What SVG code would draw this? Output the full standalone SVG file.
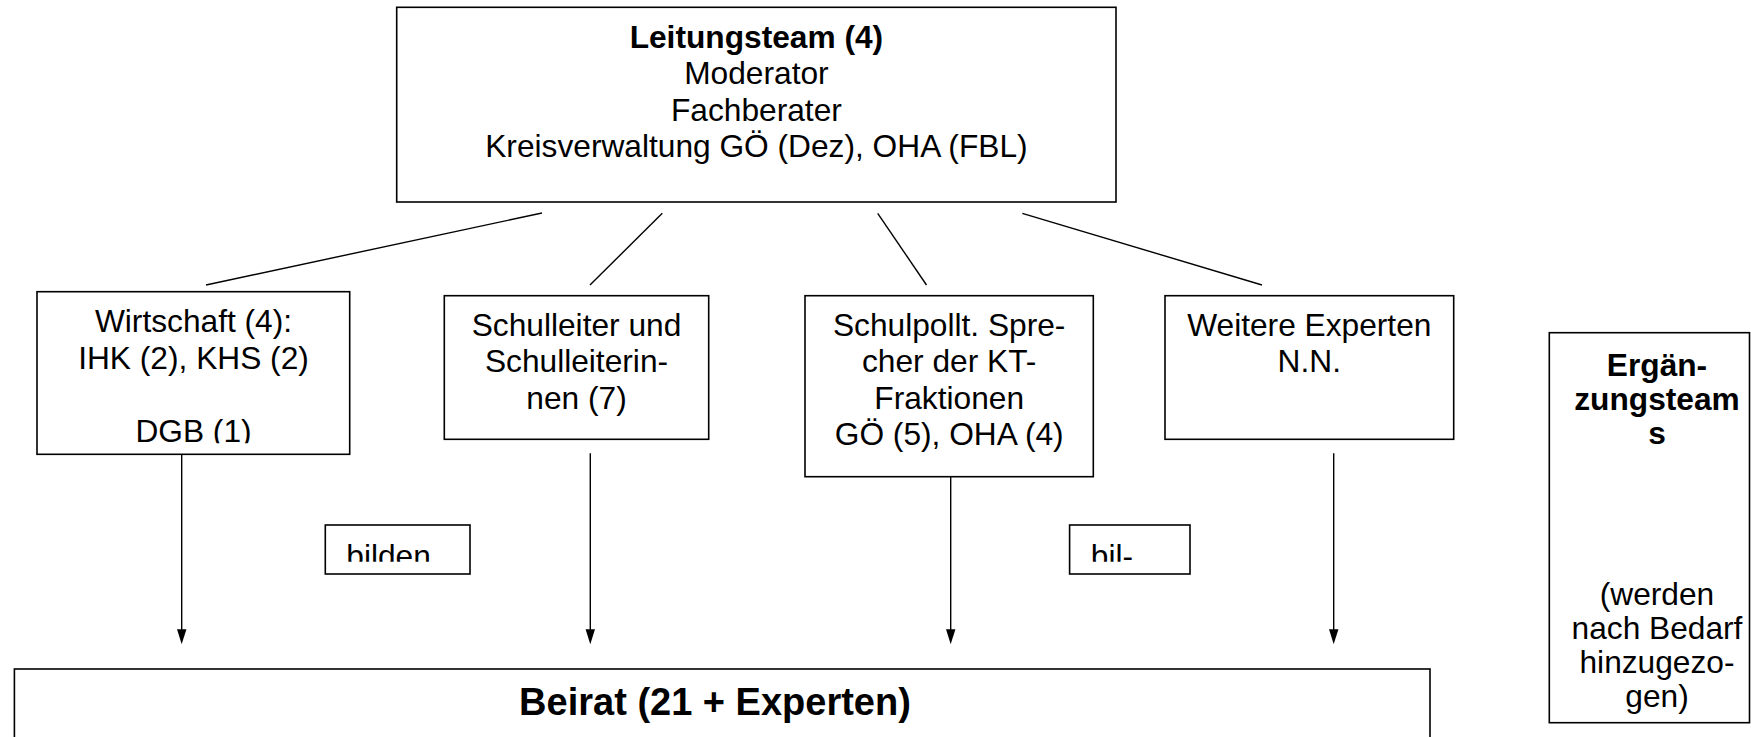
<svg xmlns="http://www.w3.org/2000/svg" width="1751" height="737" viewBox="0 0 1751 737">
<style>
.box{fill:#fff;stroke:#000;stroke-width:1.6}
.t{font-family:"Liberation Sans",Arial,sans-serif;font-size:31.7px;fill:#000;text-anchor:middle}
.tl{font-family:"Liberation Sans",Arial,sans-serif;font-size:31.7px;fill:#000}
.b{font-weight:bold}
.con line{stroke:#000;stroke-width:1.4}
.con path{fill:#000}
</style>
<defs>
<clipPath id="cw"><rect x="37" y="291" width="313" height="152.3"/></clipPath>
<clipPath id="cb1"><rect x="325" y="525" width="146" height="36.7"/></clipPath>
<clipPath id="cb2"><rect x="1069" y="525" width="122" height="36.7"/></clipPath>
</defs>
<rect width="1751" height="737" fill="#fff"/>

<g id="connectors" class="con">
<line x1="542" y1="213" x2="206" y2="285"/>
<line x1="662.3" y1="213.3" x2="590" y2="285"/>
<line x1="877.7" y1="213.3" x2="926.5" y2="285"/>
<line x1="1022.3" y1="213.3" x2="1262" y2="285"/>
<line x1="181.7" y1="454.3" x2="181.7" y2="630"/>
<line x1="590.3" y1="453.3" x2="590.3" y2="630"/>
<line x1="950.7" y1="476.7" x2="950.7" y2="630"/>
<line x1="1333.7" y1="453.3" x2="1333.7" y2="630"/>
<path d="M177,629.3 L186.4,629.3 L181.7,644.3 Z"/>
<path d="M585.6,629.3 L595,629.3 L590.3,644.3 Z"/>
<path d="M946,629.3 L955.4,629.3 L950.7,644.3 Z"/>
<path d="M1329,629.3 L1338.4,629.3 L1333.7,644.3 Z"/>
</g>

<g id="leitungsteam">
<rect class="box" x="396.7" y="7.3" width="719.3" height="194.7"/>
<text class="t b" x="756.4" y="47.5">Leitungsteam (4)</text>
<text class="t" x="756.4" y="84">Moderator</text>
<text class="t" x="756.4" y="120.5">Fachberater</text>
<text class="t" x="756.4" y="157">Kreisverwaltung GÖ (Dez), OHA (FBL)</text>
</g>

<g id="wirtschaft">
<rect class="box" x="37" y="291.7" width="312.7" height="162.6"/>
<g clip-path="url(#cw)">
<text class="t" x="193.5" y="332.3">Wirtschaft (4):</text>
<text class="t" x="193.5" y="369">IHK (2), KHS (2)</text>
<text class="t" x="193.5" y="442">DGB (1)</text>
</g>
</g>

<g id="schulleiter">
<rect class="box" x="444.3" y="295.7" width="264.4" height="143.6"/>
<text class="t" x="576.5" y="335.7">Schulleiter und</text>
<text class="t" x="576.5" y="372.3">Schulleiterin-</text>
<text class="t" x="576.5" y="408.8">nen (7)</text>
</g>

<g id="schulpolitik">
<rect class="box" x="805" y="295.7" width="288.3" height="181"/>
<text class="t" x="949.2" y="335.7">Schulpollt. Spre-</text>
<text class="t" x="949.2" y="372.3">cher der KT-</text>
<text class="t" x="949.2" y="408.8">Fraktionen</text>
<text class="t" x="949.2" y="445.4">GÖ (5), OHA (4)</text>
</g>

<g id="weitere">
<rect class="box" x="1165" y="295.7" width="288.7" height="143.6"/>
<text class="t" x="1309.3" y="335.7">Weitere Experten</text>
<text class="t" x="1309.3" y="372.3">N.N.</text>
</g>

<g id="bilden1">
<rect class="box" x="325.3" y="525" width="144.7" height="49"/>
<text class="tl" x="346.3" y="566.5" clip-path="url(#cb1)">bilden</text>
</g>

<g id="bilden2">
<rect class="box" x="1069.6" y="525" width="120.4" height="49"/>
<text class="tl" x="1090.8" y="566.5" clip-path="url(#cb2)">bil-</text>
</g>

<g id="ergaenzungsteams">
<rect class="box" x="1549.3" y="332.7" width="200.2" height="390"/>
<text class="t b" x="1657" y="376">Ergän-</text>
<text class="t b" x="1657" y="410">zungsteam</text>
<text class="t b" x="1657" y="444">s</text>
<text class="t" x="1657" y="605">(werden</text>
<text class="t" x="1657" y="639">nach Bedarf</text>
<text class="t" x="1657" y="673">hinzugezo-</text>
<text class="t" x="1657" y="707">gen)</text>
</g>

<g id="beirat">
<rect class="box" x="14.4" y="669" width="1415.6" height="90"/>
<text class="t b" x="715" y="715" style="font-size:38px">Beirat (21 + Experten)</text>
</g>
</svg>
